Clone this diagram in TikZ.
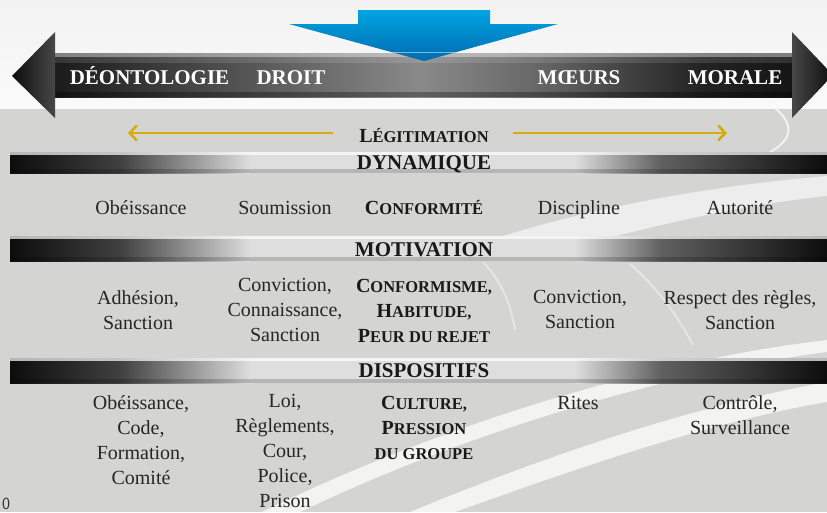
\documentclass[tikz,border=0pt]{standalone}
\usepackage{fontspec}
\setmainfont{Liberation Serif}
\usetikzlibrary{arrows.meta}
\definecolor{bglow}{RGB}{212,212,210}
\definecolor{gold}{RGB}{212,172,12}
\definecolor{bluetop}{RGB}{0,164,226}
\definecolor{bluebot}{RGB}{0,108,176}
\newcommand{\mysc}[2]{{\fontsize{20}{25}\selectfont #1}{\fontsize{16.5}{25}\selectfont #2}}
\newcommand{\mysmall}[1]{{\fontsize{16.5}{25}\selectfont #1}}
\begin{document}
\begin{tikzpicture}[x=1pt,y=-1pt,
  body/.style={font=\fontsize{20}{25}\selectfont, align=center, inner sep=0pt, text=black!85},
  bsc/.style={font=\bfseries\fontsize{20}{25}\selectfont, align=center, inner sep=0pt, text=black!90},
  bartitle/.style={font=\bfseries\fontsize{21}{22}\selectfont, inner sep=0pt, text=black!90, anchor=base},
  arrowlbl/.style={font=\bfseries\fontsize{21}{22}\selectfont, text=white, inner sep=0pt, anchor=base},
  goldarrow/.style={draw=gold, line width=2.6pt, -{Straight Barb[length=7pt,width=15pt]}},
  swoosh/.style={fill=white, opacity=0.72},
]
\useasboundingbox (0,0) rectangle (827,512);
\clip (0,0) rectangle (827,512);

% background
\fill[bglow] (0,0) rectangle (827,512);
\shade[top color=white!95!black, bottom color=white!98!black] (0,0) rectangle (827,108);

% decorative swooshes
\fill[swoosh] (455,512) .. controls (600,460) and (720,420) .. (827,402)
  -- (827,382) .. controls (700,405) and (560,450) .. (410,512) -- cycle;
\fill[swoosh] (300,512) .. controls (450,440) and (650,375) .. (827,352)
  -- (827,340) .. controls (640,362) and (430,430) .. (262,512) -- cycle;
\fill[swoosh, opacity=0.6] (490,240) .. controls (600,205) and (720,185) .. (827,176)
  -- (827,196) .. controls (740,205) and (660,225) .. (600,240) -- cycle;
\draw[white, opacity=0.7, line width=2pt] (775,108) .. controls (795,125) and (792,140) .. (770,152);
\draw[white, opacity=0.4, line width=2pt] (483,262) .. controls (500,280) and (510,300) .. (515,330);
\draw[white, opacity=0.4, line width=2pt] (630,264) .. controls (660,290) and (680,320) .. (693,345);

% gradient bars
\foreach \t/\b in {152/173, 236/261, 358/383} {
  \shade[left color=black!95, right color=black!75] (10,\t) rectangle (120.5,\b);
  \shade[left color=black!75, right color=white!87!black] (120,\t) rectangle (250.5,\b);
  \fill[white!87!black] (250,\t) rectangle (575.5,\b);
  \shade[left color=white!87!black, right color=black!62] (575,\t) rectangle (660.5,\b);
  \shade[left color=black!62, right color=black!95] (660,\t) rectangle (827,\b);
  \fill[white, opacity=0.7] (10,\t) rectangle (827,\t+3);
  \fill[black, opacity=0.18] (10,\b-4) rectangle (827,\b);
}

% titles
\node[bartitle] (dyn) at (424,169) {DYNAMIQUE};
\node[bartitle] (mot) at (424,256) {MOTIVATION};
\node[bartitle] (dis) at (424,377) {DISPOSITIFS};

% legitimation
\node[bsc, anchor=base] (leg) at (424,142) {\mysc{L}{ÉGITIMATION}};
\coordinate (gl1) at (333,133);
\coordinate (gl2) at (128,133);
\coordinate (gr1) at (513,133);
\coordinate (gr2) at (727,133);
\draw[goldarrow] (gl1) -- (gl2);
\draw[goldarrow] (gr1) -- (gr2);

% row 1
\node[body, anchor=base] (r1a) at (141,214) {Obéissance};
\node[body, anchor=base] (r1b) at (285,214) {Soumission};
\node[bsc, anchor=base] (r1c) at (424,214) {\mysc{C}{ONFORMITÉ}};
\node[body, anchor=base] (r1d) at (579,214) {Discipline};
\node[body, anchor=base] (r1e) at (740,214) {Autorité};

% row 2
\node[body] (r2a) at (138,310) {Adhésion,\\Sanction};
\node[body] (r2b) at (285,310) {Conviction,\\Connaissance,\\Sanction};
\node[bsc] (r2c) at (424,311) {\mysc{C}{ONFORMISME,}\\\mysc{H}{ABITUDE,}\\\mysc{P}{EUR DU REJET}};
\node[body] (r2d) at (580,309) {Conviction,\\Sanction};
\node[body] (r2e) at (740,310) {Respect des règles,\\Sanction};

% row 3
\node[body] (r3a) at (141,440) {Obéissance,\\Code,\\Formation,\\Comité};
\node[body] (r3b) at (285,451) {Loi,\\Règlements,\\Cour,\\Police,\\Prison};
\node[bsc] (r3c) at (424,428) {\mysc{C}{ULTURE,}\\\mysc{P}{RESSION}\\\mysmall{DU GROUPE}};
\node[body, anchor=base] (r3d) at (578,409) {Rites};
\node[body] (r3e) at (740,415) {Contrôle,\\Surveillance};

% page number
\node[font=\sffamily\fontsize{17}{17}\selectfont, text=black!80, inner sep=0pt, anchor=base] (pg) at (6,509) {0};

% top double arrow
\shade[left color=black!90, right color=black!78] (50,53) rectangle (150.5,97);
\shade[left color=black!78, right color=black!46] (150,53) rectangle (420.5,97);
\shade[left color=black!46, right color=black!60] (420,53) rectangle (540.5,97);
\shade[left color=black!60, right color=black!86] (540,53) rectangle (700.5,97);
\shade[left color=black!86, right color=black!92] (700,53) rectangle (795,97);
\fill[white, opacity=0.45] (50,53) rectangle (795,56.5);
\fill[white, opacity=0.12] (50,56.5) rectangle (795,63);
\fill[black, opacity=0.3] (50,92) rectangle (795,97);
\shade[left color=black!95, right color=black!72] (12,76) -- (55,32) -- (55,118) -- cycle;
\shade[left color=black!72, right color=black!95] (792,32) -- (833,75) -- (792,118) -- cycle;

\node[arrowlbl] (deo) at (149.5,84) {DÉONTOLOGIE};
\node[arrowlbl] (dro) at (291,84) {DROIT};
\node[arrowlbl] (moe) at (579,84) {MŒURS};
\node[arrowlbl] (mor) at (735,84) {MORALE};

% blue arrow
\shade[top color=bluetop, bottom color=bluebot]
  (358,10) -- (490,10) -- (490,24) -- (558,24) -- (424,61) -- (289,24) -- (358,24) -- cycle;
\begin{scope}
  \clip (289,24) -- (558,24) -- (424,61) -- cycle;
  \draw[white, opacity=0.5, line width=0.8pt] (380,52) -- (470,52);
\end{scope}
\end{tikzpicture}
\end{document}
